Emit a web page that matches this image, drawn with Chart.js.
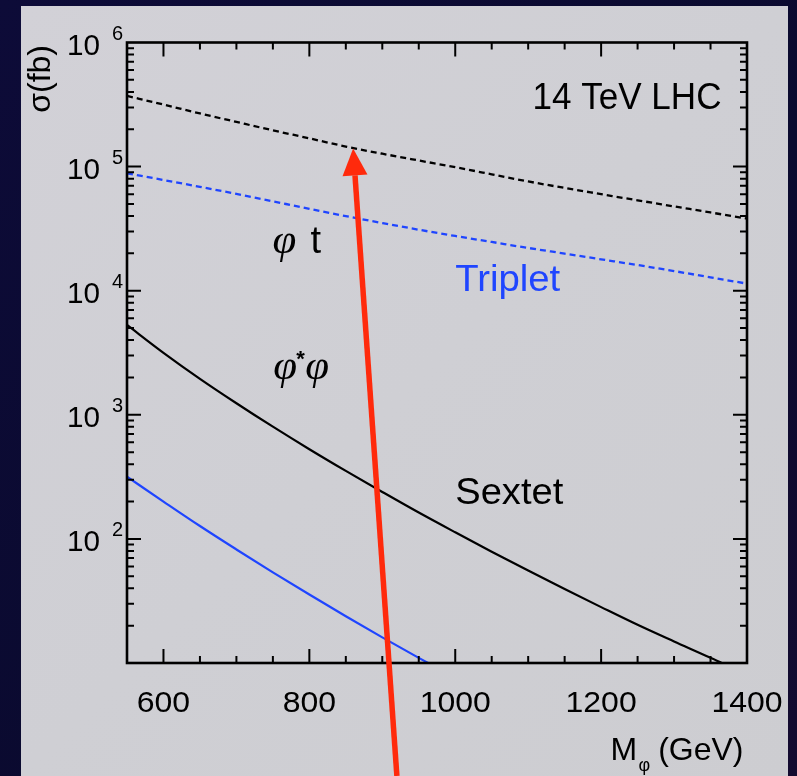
<!DOCTYPE html>
<html>
<head>
<meta charset="utf-8">
<script src="https://cdn.jsdelivr.net/npm/chart.js@4.4.1/dist/chart.umd.min.js"></script>
<style>
  html, body { margin: 0; padding: 0; background: #0a0a2a; }
  canvas { display: block; }
</style>
</head>
<body>
<canvas id="chart" width="797" height="776"></canvas>
<script>
// scalar mass (GeV)
const masses = [550, 600, 650, 700, 750, 800, 850, 900, 950, 1000, 1050, 1100, 1150, 1200, 1250, 1300, 1350, 1400];

// cross sections in fb
const sextetPhiT = [371000, 316000, 268000, 229000, 196000, 169000, 145000, 127000, 112000, 98900, 86700, 75900, 67300, 60000, 53500, 47800, 42700, 38100];
const tripletPhiT = [88300, 78000, 68700, 60300, 52500, 45700, 39900, 35100, 31000, 27600, 24700, 22100, 19900, 17900, 16100, 14400, 12800, 11400];
const sextetPair = [5300, 3160, 1950, 1240, 802, 528, 353, 239, 163, 113, 78.9, 55.6, 39.4, 28.2, 20.3, 14.9, 11.0, 8.0];
const tripletPair = [317, 200, 127, 82.2, 53.7, 35.6, 23.8, 16.1, 11.0, 7.6, null, null, null, null, null, null, null, null];

// axis labels
const xTicks = [600, 800, 1000, 1200, 1400];
const yExponents = [2, 3, 4, 5, 6];

const BLUE = '#1f45ff';
const SANS = '"Liberation Sans", Arial, sans-serif';
const SERIF = '"Liberation Serif", "Times New Roman", serif';

function series(values) {
  return masses.map((m, i) => ({ x: m, y: values[i] }));
}

// squeeze a string to a given width
function fitText(ctx, text, x, y, width, align) {
  const w = ctx.measureText(text).width;
  ctx.save();
  ctx.translate(x, y);
  ctx.scale(width / w, 1);
  ctx.textAlign = align;
  ctx.fillText(text, 0, 0);
  ctx.restore();
}

const decor = {
  id: 'decor',
  beforeDraw(chart) {
    const { ctx, width, height } = chart;
    ctx.save();
    const bg = ctx.createLinearGradient(0, 0, width, height);
    bg.addColorStop(0, '#0d0b38');
    bg.addColorStop(0.6, '#0a0a2e');
    bg.addColorStop(1, '#140b30');
    ctx.fillStyle = bg;
    ctx.fillRect(0, 0, width, height);
    const panel = ctx.createLinearGradient(21, 6, 788, 776);
    panel.addColorStop(0, '#d2d1d7');
    panel.addColorStop(0.5, '#cfcfd4');
    panel.addColorStop(1, '#cdcdd1');
    ctx.fillStyle = panel;
    ctx.fillRect(21, 6, 767, 770);
    ctx.restore();
  },
  afterDatasetsDraw(chart) {
    const { ctx, chartArea: a } = chart;
    const xs = chart.scales.x, ys = chart.scales.y;
    ctx.save();
    ctx.strokeStyle = '#000';
    ctx.lineCap = 'butt';

    // ticks on all four sides, pointing inwards
    ctx.lineWidth = 2;
    ctx.beginPath();
    for (let m = 550; m <= 1400; m += 50) {
      if (m === 550 || m === 1400) continue;
      const len = m % 200 === 0 ? 14 : 7;
      const px = xs.getPixelForValue(m);
      ctx.moveTo(px, a.bottom); ctx.lineTo(px, a.bottom - len);
      ctx.moveTo(px, a.top); ctx.lineTo(px, a.top + len);
    }
    for (let e = 1; e <= 5; e++) {
      for (let k = 1; k <= 9; k++) {
        if (e === 1 && k === 1) continue;
        const py = ys.getPixelForValue(k * Math.pow(10, e));
        const len = k === 1 ? 14 : 7;
        ctx.moveTo(a.left, py); ctx.lineTo(a.left + len, py);
        ctx.moveTo(a.right, py); ctx.lineTo(a.right - len, py);
      }
    }
    ctx.stroke();

    // frame
    ctx.lineWidth = 2.6;
    ctx.strokeRect(a.left, a.top, a.right - a.left, a.bottom - a.top);

    // tick labels
    ctx.fillStyle = '#000';
    ctx.textBaseline = 'alphabetic';
    ctx.font = '30px ' + SANS;
    xTicks.forEach(v => {
      const label = String(v);
      fitText(ctx, label, xs.getPixelForValue(v), a.bottom + 48.5, label.length * 17.8, 'center');
    });
    yExponents.forEach(e => {
      const py = ys.getPixelForValue(Math.pow(10, e));
      ctx.font = '30px ' + SANS;
      fitText(ctx, '10', a.left - 27, py + 12, 33, 'right');
      ctx.font = '20px ' + SANS;
      ctx.textAlign = 'left';
      ctx.fillText(String(e), a.left - 15, py - 3);
    });

    // axis titles
    ctx.font = '32px ' + SANS;
    ctx.save();
    ctx.translate(50, a.top + 2.5);
    ctx.rotate(-Math.PI / 2);
    ctx.textAlign = 'right';
    ctx.fillText('\u03c3(fb)', 0, 0);
    ctx.restore();
    ctx.textAlign = 'left';
    ctx.fillText('M', 610.5, 760);
    ctx.textAlign = 'right';
    ctx.fillText('(GeV)', 743.5, 760);
    ctx.font = '18px ' + SANS;
    ctx.textAlign = 'left';
    ctx.fillText('\u03c6', 638.5, 771);

    // in-plot labels
    ctx.font = '36px ' + SANS;
    fitText(ctx, '14 TeV LHC', xs.getPixelForValue(1365), ys.getPixelForValue(2.9e5), 189, 'right');
    fitText(ctx, 'Sextet', xs.getPixelForValue(1000), ys.getPixelForValue(190), 108, 'left');
    ctx.fillStyle = BLUE;
    fitText(ctx, 'Triplet', xs.getPixelForValue(1000), ys.getPixelForValue(1.0e4), 105, 'left');

    ctx.fillStyle = '#000';
    ctx.textAlign = 'left';
    let px = xs.getPixelForValue(751), py = ys.getPixelForValue(2.0e4);
    ctx.font = 'italic 43px ' + SERIF;
    ctx.fillText('\u03c6', px - 1, py);
    ctx.font = '38px ' + SANS;
    ctx.fillText('t', px + 37, py);

    px = xs.getPixelForValue(752); py = ys.getPixelForValue(1950);
    ctx.font = 'italic 43px ' + SERIF;
    ctx.fillText('\u03c6', px - 1, py);
    ctx.fillText('\u03c6', px + 31, py);
    ctx.font = 'bold 22px ' + SANS;
    ctx.fillText('*', px + 22, py - 13);
    ctx.restore();
  },
  afterDraw(chart) {
    // red arrow pointing at the sextet curve
    const { ctx } = chart;
    const xs = chart.scales.x, ys = chart.scales.y;
    const tip = { x: xs.getPixelForValue(860), y: ys.getPixelForValue(1.4e5) };
    const tail = { x: xs.getPixelForValue(920), y: ys.getPixelForValue(1.23) };
    const ang = Math.atan2(tip.y - tail.y, tip.x - tail.x);
    const headLen = 27, headHalf = 12.5;
    const bx = tip.x - headLen * Math.cos(ang), by = tip.y - headLen * Math.sin(ang);
    ctx.save();
    ctx.strokeStyle = '#ff2a0c';
    ctx.fillStyle = '#ff2a0c';
    ctx.lineWidth = 5.5;
    ctx.beginPath();
    ctx.moveTo(tail.x, tail.y);
    ctx.lineTo(bx, by);
    ctx.stroke();
    ctx.beginPath();
    ctx.moveTo(tip.x, tip.y);
    ctx.lineTo(bx + headHalf * Math.sin(ang), by - headHalf * Math.cos(ang));
    ctx.lineTo(bx - headHalf * Math.sin(ang), by + headHalf * Math.cos(ang));
    ctx.closePath();
    ctx.fill();
    ctx.restore();
  }
};

new Chart(document.getElementById('chart'), {
  type: 'line',
  data: {
    datasets: [
      { label: 'Sextet phi t', data: series(sextetPhiT), borderColor: '#000', borderWidth: 2.3, borderDash: [6, 4] },
      { label: 'Triplet phi t', data: series(tripletPhiT), borderColor: BLUE, borderWidth: 2.3, borderDash: [6, 4] },
      { label: 'Sextet pair', data: series(sextetPair), borderColor: '#000', borderWidth: 2.2 },
      { label: 'Triplet pair', data: series(tripletPair), borderColor: BLUE, borderWidth: 2.2 }
    ]
  },
  options: {
    responsive: false,
    animation: false,
    devicePixelRatio: 1,
    layout: { padding: { left: 127, right: 50, top: 42.5, bottom: 113 } },
    elements: {
      point: { radius: 0 },
      line: { cubicInterpolationMode: 'monotone', fill: false }
    },
    scales: {
      x: { type: 'linear', min: 550, max: 1400, display: false },
      y: { type: 'logarithmic', min: 10, max: 1e6, display: false }
    },
    plugins: { legend: { display: false }, tooltip: { enabled: false } }
  },
  plugins: [decor]
});
</script>
</body>
</html>
